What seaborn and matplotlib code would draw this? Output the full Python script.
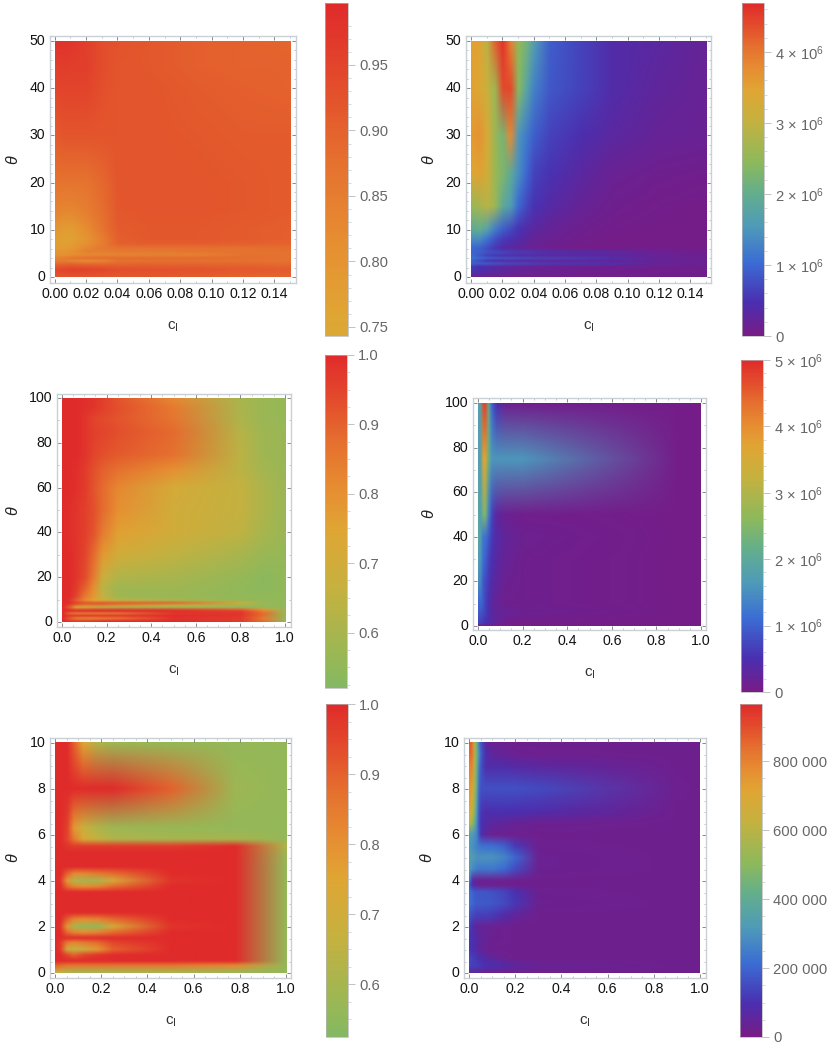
import numpy as np
import pandas as pd
import matplotlib
matplotlib.use('Agg')
import matplotlib.pyplot as plt
import seaborn as sns
from matplotlib.colors import LinearSegmentedColormap, Normalize
from matplotlib.ticker import MultipleLocator, FixedLocator
from matplotlib.transforms import Bbox

# ── Data: values ──────────────────────────────────────────────────
# panel 1 : c_I 0-0.15, theta 0-50, fraction
c_1 = [0, .005, .01, .02, .03, .04, .06, .09, .12, .15]
theta_1 = [0, 1.4, 2.5, 3.3, 3.9, 4.6, 5.3, 6, 7, 8, 10, 14, 20, 30, 40, 45, 50]
z_1 = [
    [.92, .92, .925, .925, .92, .915, .915, .91, .90, .895],
    [.945, .95, .955, .955, .945, .935, .93, .925, .915, .91],
    [.90, .90, .91, .90, .90, .90, .90, .90, .895, .89],
    [.85, .85, .83, .82, .83, .87, .875, .875, .875, .87],
    [.84, .85, .87, .88, .885, .885, .885, .885, .88, .875],
    [.80, .80, .81, .82, .825, .83, .835, .84, .875, .875],
    [.80, .80, .81, .85, .85, .86, .86, .87, .875, .875],
    [.78, .78, .79, .83, .86, .87, .875, .875, .875, .88],
    [.78, .77, .78, .81, .85, .905, .91, .91, .905, .90],
    [.78, .77, .77, .80, .85, .905, .915, .915, .91, .905],
    [.80, .78, .78, .82, .87, .91, .915, .915, .91, .905],
    [.84, .83, .83, .85, .88, .915, .92, .92, .915, .91],
    [.87, .87, .87, .87, .89, .92, .92, .92, .915, .91],
    [.91, .92, .92, .92, .92, .92, .92, .915, .91, .91],
    [.945, .95, .95, .95, .93, .92, .92, .91, .905, .90],
    [.96, .965, .96, .96, .935, .92, .915, .905, .90, .90],
    [.985, .98, .975, .96, .935, .925, .915, .905, .90, .895],
]

# panel 2 : c_I 0-0.15, theta 0-50, in units of 1e6
c_2 = [0, .005, .01, .015, .02, .025, .03, .035, .04, .05, .07, .09, .12, .15]
theta_2 = [0, 1, 2.1, 2.8, 3.3, 3.9, 4.4, 5, 6, 8, 10, 15, 22, 30, 40, 50]
z_2 = [
    [.2, .15, .1, .1, .1, .08, .08, .08, .08, .08, .08, .08, .08, .08],
    [.5, .45, .4, .35, .3, .25, .2, .2, .15, .15, .1, .1, .08, .08],
    [.6, .45, .4, .3, .25, .25, .2, .2, .15, .12, .1, .1, .1, .1],
    [1.0, .95, .9, .85, .8, .75, .7, .7, .65, .6, .55, .5, .25, .15],
    [.9, .7, .5, .4, .35, .3, .3, .25, .25, .2, .2, .15, .12, .1],
    [1.1, 1.0, .9, .85, .8, .8, .75, .7, .7, .65, .6, .5, .25, .15],
    [1.0, .8, .6, .5, .4, .35, .3, .3, .25, .2, .2, .15, .12, .1],
    [1.0, .9, .8, .75, .7, .65, .6, .6, .55, .5, .45, .4, .2, .12],
    [1.0, .95, .75, .55, .4, .3, .25, .2, .15, .1, .05, .05, .05, .05],
    [1.4, 1.4, 1.1, .8, .6, .5, .4, .3, .2, .15, .08, .05, .05, .05],
    [1.9, 2.0, 1.7, 1.2, .9, .7, .5, .4, .3, .2, .1, .06, .05, .05],
    [2.6, 2.7, 2.9, 2.6, 1.9, 1.6, 1.0, .7, .5, .35, .2, .1, .06, .05],
    [3.4, 3.5, 3.2, 2.6, 2.3, 1.9, 1.4, 1.0, .65, .5, .3, .15, .1, .08],
    [3.6, 3.7, 3.3, 2.6, 2.2, 3.8, 1.5, 1.2, .9, .65, .45, .3, .2, .15],
    [3.5, 3.4, 3.1, 2.6, 4.4, 4.4, 2.4, 1.8, 1.25, .85, .65, .4, .25, .18],
    [3.5, 3.5, 2.9, 4.2, 4.6, 3.9, 2.5, 2.2, 1.6, .9, .65, .4, .3, .2],
]

# panel 3 : c_I 0-1, theta 0-100, fraction
c_3 = [0, .03, .06, .1, .14, .18, .25, .5, .8, .9, 1.0]
theta_3 = [0, 1.5, 2.6, 3.6, 4.5, 5.3, 6.3, 7.2, 8.3, 9.3, 11, 15, 20, 30, 40, 50,
           60, 68, 75, 85, 91, 96, 100]
z_3 = [
    [1, .98, .97, .97, .98, .99, 1, 1, .97, .88, .56],
    [1, .9, .82, .8, .8, .82, .84, .98, .97, .85, .56],
    [1, 1, 1, 1, 1, 1, 1, 1, .98, .88, .56],
    [1, .85, .8, .8, .8, .8, .82, .97, .98, .88, .57],
    [1, 1, 1, 1, 1, 1, 1, 1, .97, .85, .58],
    [1, .98, .95, .95, .97, .97, .97, .96, .9, .78, .56],
    [1, .9, .72, .68, .65, .62, .6, .57, .56, .55, .55],
    [1, .95, .88, .85, .85, .85, .82, .68, .58, .56, .55],
    [1, 1, .97, .93, .93, .93, .92, .9, .72, .58, .55],
    [1, .98, .9, .82, .75, .7, .65, .6, .56, .55, .55],
    [1, 1, .95, .85, .78, .66, .58, .57, .55, .55, .55],
    [1, 1, .97, .9, .8, .64, .58, .58, .55, .54, .55],
    [1, 1, .98, .94, .85, .68, .62, .6, .56, .54, .55],
    [1, 1, .98, .95, .88, .78, .70, .65, .6, .57, .56],
    [1, .99, .98, .96, .92, .85, .76, .70, .65, .6, .57],
    [1, .99, .98, .96, .93, .88, .80, .70, .66, .61, .57],
    [1, 1, .99, .97, .92, .88, .82, .71, .66, .61, .57],
    [1, 1, .99, .97, .93, .9, .87, .80, .64, .59, .57],
    [1, 1, 1, .98, .95, .93, .91, .87, .64, .58, .57],
    [1, 1, 1, .98, .96, .95, .93, .88, .63, .58, .57],
    [1, 1, 1, .98, .95, .94, .92, .86, .61, .57, .56],
    [1, 1, 1, .99, .98, .96, .93, .85, .61, .57, .56],
    [1, 1, 1, .99, .98, .96, .92, .82, .6, .57, .56],
]

# panel 4 : c_I 0-1, theta 0-100, in units of 1e6
c_4 = [0, .01, .02, .03, .045, .06, .08, .12, .2, .9, 1]
theta_4 = [0, 1, 6, 10, 20, 30, 40, 50, 75, 100]
z_4 = [
    [.1, .1, .1, .08, .05, .05, .05, .05, .05, .05, .05],
    [.7, .7, .6, .5, .45, .35, .25, .1, .05, .05, .05],
    [.9, .9, .8, .7, .5, .3, .25, .2, .15, .05, .05],
    [1.0, 1.1, .9, .7, .45, .3, .2, .1, .1, .05, .05],
    [1.5, 1.4, .9, .8, .6, .4, .3, .15, .1, .05, .05],
    [1.7, 1.6, 1.1, 1.0, .7, .5, .35, .2, .1, .05, .05],
    [1.9, 1.7, 1.2, 1.2, .9, .6, .4, .25, .12, .05, .05],
    [1.9, 1.7, 2.4, 2.5, 1.3, .7, .3, .15, .08, .05, .05],
    [1.7, 1.8, 3.7, 3.7, 2.2, 1.6, 1.6, 1.6, 1.6, .05, .05],
    [1.7, 1.9, 4.7, 4.8, 2.1, 1.0, .5, .15, .08, .05, .05],
]

# panel 5 : c_I 0-1, theta 0-10, fraction
c_5 = [0, .02, .05, .08, .12, .18, .25, .5, .78, 1]
theta_5 = [0, .3, .5, .75, 1, 1.3, 1.5, 1.75, 2, 2.3, 2.6, 3.5, 3.75, 4, 4.3, 4.6,
           5.2, 5.5, 5.8, 6.3, 8, 10]
z_5 = [
    [.7, .66, .62, .6, .6, .6, .6, .6, .57, .56],
    [.9, .88, .86, .86, .86, .86, .86, .86, .82, .56],
    [1, 1, 1, 1, 1, 1, 1, 1, 1, .56],
    [1, 1, .95, .9, .95, .98, 1, 1, 1, .56],
    [1, .97, .7, .66, .68, .78, .9, 1, 1, .56],
    [1, .97, .85, .82, .85, .88, .95, 1, 1, .56],
    [1, 1, 1, 1, 1, 1, 1, 1, 1, .56],
    [1, 1, .88, .82, .8, .82, .88, 1, 1, .56],
    [1, .98, .78, .6, .57, .56, .72, .98, 1, .56],
    [1, 1, .9, .82, .8, .82, .88, 1, 1, .56],
    [1, 1, 1, 1, 1, 1, 1, 1, 1, .56],
    [1, 1, 1, 1, 1, 1, 1, 1, 1, .56],
    [1, 1, .88, .82, .8, .82, .88, 1, 1, .56],
    [1, .98, .78, .62, .6, .6, .72, .98, 1, .56],
    [1, 1, .9, .82, .82, .85, .88, 1, 1, .56],
    [1, 1, 1, 1, 1, 1, 1, 1, 1, .56],
    [1, 1, 1, 1, 1, 1, 1, 1, 1, .58],
    [1, 1, .98, .97, .97, .97, .97, .97, 1, .62],
    [1, 1, .95, .85, .72, .66, .62, .6, .6, .56],
    [1, 1, .96, .78, .68, .62, .58, .57, .56, .56],
    [1, 1, 1, 1, 1, 1, 1, .9, .58, .56],
    [1, 1, 1, .9, .75, .62, .58, .56, .56, .56],
]

# panel 6 : c_I 0-1, theta 0-10, in thousands
c_6 = [0, .01, .02, .03, .04, .05, .07, .1, .15, .2, .3, .9, 1]
theta_6 = [0, .3, .6, 1, 1.5, 2, 2.5, 3, 3.5, 3.8, 4, 4.5, 5, 5.5, 6, 6.5, 7, 8, 9, 9.5, 10]
z_6 = [
    [60, 60, 60, 60, 50, 40, 30, 25, 20, 20, 20, 20, 20],
    [140, 130, 130, 130, 120, 110, 100, 100, 80, 60, 40, 20, 20],
    [150, 130, 120, 110, 100, 90, 70, 50, 30, 20, 20, 20, 20],
    [110, 100, 90, 70, 60, 50, 30, 20, 20, 20, 20, 20, 20],
    [110, 100, 80, 70, 60, 50, 40, 30, 25, 20, 20, 20, 20],
    [130, 100, 70, 50, 40, 40, 35, 30, 25, 20, 20, 20, 20],
    [170, 150, 140, 130, 130, 130, 130, 120, 80, 50, 20, 20, 20],
    [230, 210, 190, 180, 180, 180, 180, 170, 150, 110, 30, 20, 20],
    [230, 200, 180, 170, 170, 170, 170, 160, 140, 100, 25, 20, 20],
    [180, 100, 70, 50, 40, 30, 30, 30, 25, 20, 20, 20, 20],
    [250, 100, 40, 30, 30, 30, 30, 30, 25, 20, 20, 20, 20],
    [320, 290, 270, 250, 240, 240, 240, 240, 210, 150, 30, 20, 20],
    [340, 330, 310, 300, 300, 300, 300, 300, 270, 200, 30, 20, 20],
    [320, 300, 280, 260, 240, 230, 220, 220, 190, 120, 25, 20, 20],
    [330, 330, 300, 270, 170, 90, 50, 30, 25, 20, 20, 20, 20],
    [600, 550, 430, 300, 160, 100, 80, 60, 50, 40, 30, 20, 20],
    [660, 660, 520, 330, 170, 110, 90, 100, 100, 95, 85, 20, 20],
    [760, 720, 560, 430, 200, 160, 160, 160, 160, 160, 150, 25, 20],
    [800, 800, 600, 450, 250, 160, 90, 80, 80, 70, 60, 20, 20],
    [850, 850, 620, 450, 300, 180, 90, 50, 40, 30, 25, 20, 20],
    [880, 850, 600, 450, 250, 160, 50, 30, 25, 20, 20, 20, 20],
]

# ── Style ─────────────────────────────────────────────────────────
sns.set_theme(style='ticks')
plt.rcParams['font.family'] = ['Liberation Sans', 'DejaVu Sans']
plt.rcParams['mathtext.fontset'] = 'custom'
plt.rcParams['mathtext.rm'] = 'Liberation Sans'
plt.rcParams['mathtext.it'] = 'Liberation Sans:italic'

RAINBOW = LinearSegmentedColormap.from_list('mma_rainbow', [
    (0.00, '#781C86'), (0.10, '#4A2FB0'), (0.22, '#3B6CD4'), (0.33, '#4F9BB8'),
    (0.43, '#63AE8C'), (0.52, '#8CB95C'), (0.65, '#C6B13F'), (0.74, '#E0A533'),
    (0.80, '#E68E32'), (0.87, '#E5702F'), (0.93, '#E34E2C'), (1.00, '#E02B2B')])


def rainbow_part(lo, hi):
    return LinearSegmentedColormap.from_list('part', RAINBOW(np.linspace(lo, hi, 64)))


def shaded_rgb(c, theta, z, cmap, vmin, vmax, nx, ny):
    # blend the cell colours between the grid points, same as the smooth shading of the reference
    rgb = cmap(Normalize(vmin, vmax)(z))[:, :, :3]
    xs = np.linspace(c[0], c[-1], nx)
    ys = np.linspace(theta[0], theta[-1], ny)
    out = np.zeros((ny, nx, 3))
    for k in range(3):
        by_col = np.array([np.interp(ys, theta, rgb[:, j, k]) for j in range(len(c))])
        out[:, :, k] = np.array([np.interp(xs, c, by_col[:, i]) for i in range(ny)])
    return out


FRAME = '#c9d0d6'
W, H = 830, 1044
fig = plt.figure(figsize=(W / 100, H / 100), dpi=100)


def px_axes(x0, y0, x1, y1):
    return fig.add_axes([x0 / W, 1 - y1 / H, (x1 - x0) / W, (y1 - y0) / H])


def panel(c, theta, z, frame, data, bar, cmap, vmin, vmax,
          xticks, xfmt, xminor, yticks, yminor, cticks, clabels, cminor, ylabel_x):
    ax = px_axes(*frame)
    cax = px_axes(*bar)
    z = np.array(z, dtype=float)
    df = pd.DataFrame(z, index=theta, columns=c)
    sns.heatmap(df, ax=ax, cbar_ax=cax, cmap=cmap, vmin=vmin, vmax=vmax,
                cbar_kws={'ticks': cticks})
    # seaborn cells sit in index space and are flat, the reference is smooth and uneven in theta
    ax.collections[0].set_visible(False)
    nx = int((data[2] - data[0]) / 1.4)
    ny = int((data[3] - data[1]) / 1.4)
    ax.imshow(shaded_rgb(c, theta, z, cmap, vmin, vmax, nx, ny), origin='lower', aspect='auto',
              extent=[c[0], c[-1], theta[0], theta[-1]], interpolation='bicubic')

    # frame sticks out a few pixels around the data, like Mathematica's padding
    xs = (c[-1] - c[0]) / (data[2] - data[0])
    ys = (theta[-1] - theta[0]) / (data[3] - data[1])
    ax.set_xlim(c[0] - (data[0] - frame[0]) * xs, c[-1] + (frame[2] - data[2]) * xs)
    ax.set_ylim(theta[0] - (frame[3] - data[3]) * ys, theta[-1] + (data[1] - frame[1]) * ys)

    ax.set_xticks(xticks, [xfmt % v for v in xticks], rotation=0)
    ax.set_yticks(yticks, [str(v) for v in yticks], rotation=0)
    ax.xaxis.set_minor_locator(MultipleLocator(xminor))
    ax.yaxis.set_minor_locator(MultipleLocator(yminor))
    ax.tick_params(which='major', direction='in', length=3, width=.6, color='#777777',
                   labelsize=10.2, labelcolor='#111111', top=True, right=True, pad=3.5)
    ax.tick_params(which='minor', direction='in', length=1.6, width=.4, color='#999999',
                   top=True, right=True)
    ax.tick_params(axis='x', which='major', pad=3)
    for s in ax.spines.values():
        s.set_visible(True)
        s.set_color(FRAME)
        s.set_linewidth(1.0)

    # the last x label runs into the edge of the cropped plot
    for lab in ax.get_xticklabels():
        lab.set_clip_box(Bbox([[0, 0], [frame[2] + 3.5, H]]))
        lab.set_clip_on(True)

    ax.set_xlabel('c$_{\\mathrm{I}}$', fontsize=11, color='#333333', labelpad=0)
    ax.xaxis.set_label_coords(.5, -36.5 / (frame[3] - frame[1]))
    ax.set_ylabel(r'$\theta$', fontsize=11.5, color='#222222', labelpad=0)
    ax.yaxis.set_label_coords((ylabel_x + 10 - frame[0]) / (frame[2] - frame[0]), .5)

    cbar = ax.collections[0].colorbar
    cbar.set_ticks(cticks, labels=clabels)
    cax.yaxis.set_minor_locator(FixedLocator(cminor))
    cax.tick_params(which='major', direction='out', length=5, width=.5, color='#aaaaaa',
                    labelsize=10.6, labelcolor='#666666', pad=3, right=True, left=False)
    cax.tick_params(which='minor', direction='out', length=2.5, width=.4, color='#bbbbbb',
                    right=True, left=False)
    cbar.outline.set_edgecolor('#b5b5b5')
    cbar.outline.set_linewidth(.5)


sci = ['%d × 10$^{6}$' % v for v in [1, 2, 3, 4]]
th_ticks = [0, 10, 20, 30, 40, 50]
c_small = [0, .02, .04, .06, .08, .10, .12, .14]
c_big = [0, .2, .4, .6, .8, 1.0]

panel(c_1, theta_1, z_1, (50, 36, 296, 283), (54.7, 41, 290, 277), (325, 3, 348, 336),
      rainbow_part(.72, 1), .7431, .9973, c_small, '%.2f', .01, th_ticks, 2,
      [.75, .80, .85, .90, .95], ['0.75', '0.80', '0.85', '0.90', '0.95'],
      list(np.arange(.76, .99, .01)), 11)

panel(c_2, theta_2, z_2, (466, 36, 711, 283), (471, 41, 706, 277), (742, 3, 764, 336),
      RAINBOW, 0, 4.69, c_small, '%.2f', .01, th_ticks, 2,
      [0, 1, 2, 3, 4], ['0'] + sci,
      list(np.arange(.2, 4.65, .2)), 427)

panel(c_3, theta_3, z_3, (57, 394, 291, 627), (62, 398, 285, 622), (325, 355, 347, 688),
      rainbow_part(.5, 1), .52, 1.0, c_big, '%.1f', .05, [0, 20, 40, 60, 80, 100], 10,
      [.6, .7, .8, .9, 1.0], ['0.6', '0.7', '0.8', '0.9', '1.0'],
      list(np.arange(.525, 1.0, .025)), 11)

panel(c_4, theta_4, z_4, (473, 398, 706, 630), (478, 403, 701, 626), (741, 360, 763, 692),
      RAINBOW, 0, 5, c_big, '%.1f', .05, [0, 20, 40, 60, 80, 100], 10,
      [0, 1, 2, 3, 4, 5], ['0'] + sci + ['5 × 10$^{6}$'],
      list(np.arange(.2, 5, .2)), 427)

panel(c_5, theta_5, z_5, (50, 738, 291, 978), (55, 743, 286, 973), (326, 704, 348, 1037),
      rainbow_part(.5, 1), .5243, 1.0, c_big, '%.1f', .05, [0, 2, 4, 6, 8, 10], .5,
      [.6, .7, .8, .9, 1.0], ['0.6', '0.7', '0.8', '0.9', '1.0'],
      list(np.arange(.55, 1.0, .025)), 11)

panel(c_6, theta_6, z_6, (464, 738, 706, 978), (469, 743, 700, 973), (740, 704, 762, 1037),
      RAINBOW, 0, 966, c_big, '%.1f', .05, [0, 2, 4, 6, 8, 10], .5,
      [0, 200, 400, 600, 800], ['0', '200 000', '400 000', '600 000', '800 000'],
      list(np.arange(50, 950, 50)), 425)

fig.savefig('out.png', dpi=100)
